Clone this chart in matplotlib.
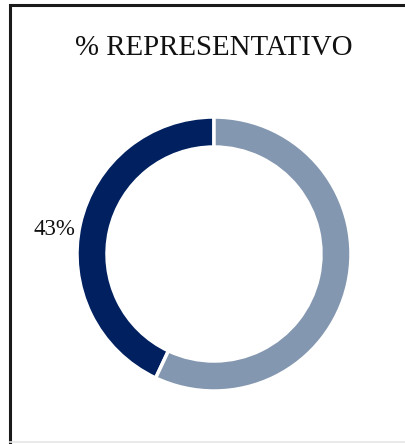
import matplotlib
matplotlib.use("Agg")
import matplotlib.pyplot as plt
from matplotlib.patches import Rectangle

plt.rcParams['font.family'] = ['Liberation Serif', 'DejaVu Serif']

# share of each group
labels = ['Representativo', 'Resto']
values = [43, 57]
colors = ['#002060', '#8497B0']

W, H = 406, 444
fig = plt.figure(figsize=(W / 100, H / 100), dpi=100)
ax = fig.add_axes([0, 0, 1, 1])
ax.set_xlim(0, W)
ax.set_ylim(0, H)
ax.set_aspect('equal')
ax.axis('off')

# chart area frame
ax.add_patch(Rectangle((10, -20), 430, H - 5 + 20, fill=False,
                       edgecolor='#1a1a1a', linewidth=2.2))
ax.plot([10, W], [1.5, 1.5], color='#e6e6e6', linewidth=1.2)

ax.text(214, H - 48, '% REPRESENTATIVO', ha='center', va='center',
        fontsize=20.8, color='#111111')

ax.pie(values, colors=colors, startangle=90, counterclock=True,
       center=(214, H - 254), radius=137,
       wedgeprops=dict(width=30, edgecolor='white', linewidth=2.5))
ax.set_xlim(0, W)
ax.set_ylim(0, H)

ax.text(54, H - 229, f'{values[0]}%', ha='center', va='center',
        fontsize=16.5, color='#111111')

fig.savefig('out.png', dpi=100)
